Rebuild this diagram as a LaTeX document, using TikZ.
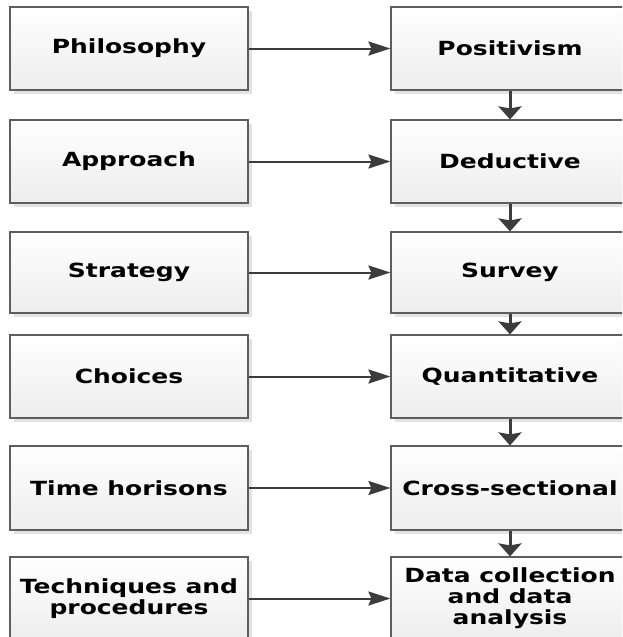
\documentclass[tikz,border=0pt]{standalone}
\usepackage{fontspec}
\usetikzlibrary{arrows.meta,shadows}
\newfontfamily\boxfont[FakeStretch=1.28]{DejaVu Sans}
\definecolor{framegray}{HTML}{5E5E5E}
\definecolor{arrowgray}{HTML}{3C3C3C}
\definecolor{shadegray}{HTML}{EDEDED}
\definecolor{shadowgray}{HTML}{E3E3E3}
\tikzset{
  stagebox/.style={draw=framegray, line width=1.2pt,
    top color=white, bottom color=shadegray,
    drop shadow={shadow xshift=3.5pt, shadow yshift=-3.5pt, fill=shadowgray, opacity=1},
    minimum width=238pt, minimum height=83pt, inner sep=0pt,
    align=center, text=black,
    font=\boxfont\bfseries\fontsize{19.5}{21}\selectfont},
  linkarrow/.style={draw=arrowgray, line width=2pt,
    -{Stealth[length=22pt, width=14pt, inset=3pt]}},
  downarrow/.style={draw=arrowgray, line width=3pt,
    -{Stealth[length=13pt, width=23pt, inset=2pt]}}
}
\begin{document}
\begin{tikzpicture}[x=1pt, y=-1pt]
  \useasboundingbox (0,0) rectangle (622,637);
  \clip (0,0) rectangle (622,637);

  % left column: research layers
  \node[stagebox] (l1) at (129,48.5)  {\raisebox{-2pt}{Philosophy}};
  \node[stagebox] (l2) at (129,161.5) {\raisebox{-2pt}{Approach}};
  \node[stagebox, minimum height=81pt] (l3) at (129,272.5) {\raisebox{-2pt}{Strategy}};
  \node[stagebox] (l4) at (129,376.5) {Choices};
  \node[stagebox, minimum height=84pt] (l5) at (129,488)   {Time horisons};
  \node[stagebox] (l6) at (129,598.5) {Techniques and\\procedures};

  % right column: choices made
  \node[stagebox] (r1) at (510,48.5)  {Positivism};
  \node[stagebox] (r2) at (510,161.5) {Deductive};
  \node[stagebox, minimum height=81pt] (r3) at (510,272.5) {\raisebox{-2pt}{Survey}};
  \node[stagebox] (r4) at (510,376.5) {Quantitative};
  \node[stagebox, minimum height=84pt] (r5) at (510,488)   {Cross-sectional};
  \node[stagebox] (r6) at (510,598.5) {Data collection\\and data\\analysis};

  % layer to choice
  \foreach \i in {1,...,6}
    \draw[linkarrow] (l\i.east) -- (r\i.west);

  % sequence down the right column
  \foreach \i/\j in {1/2,2/3,3/4,4/5,5/6}
    \draw[downarrow] (r\i.south) -- (r\j.north);
\end{tikzpicture}
\end{document}
